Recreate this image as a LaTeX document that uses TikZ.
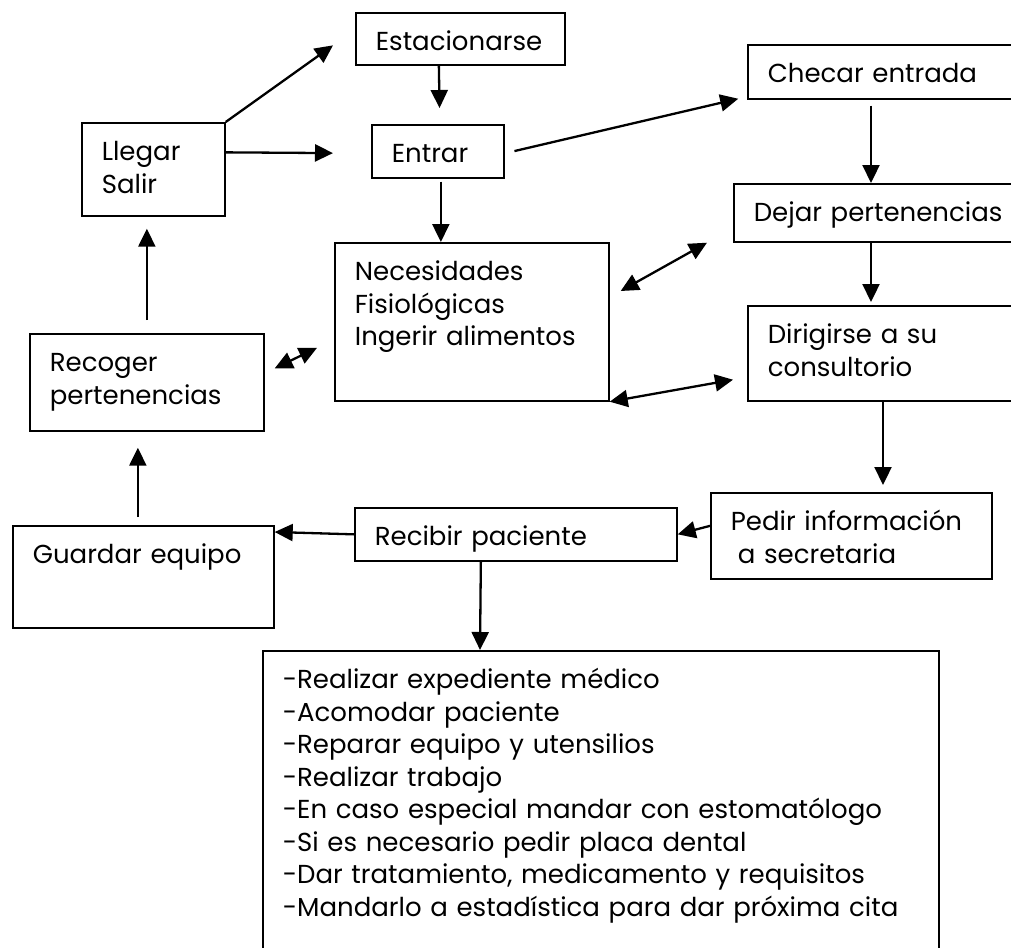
\documentclass[tikz,border=0pt]{standalone}
\usepackage{fontspec}
\setmainfont{Poppins}
\usepackage{xcolor}
\usepackage{tikz}
\usetikzlibrary{arrows.meta}

\begin{document}
\begin{tikzpicture}[x=1pt,y=-1pt,
    box/.style={draw, line width=1.7pt, anchor=north west, align=left,
      inner xsep=20pt, inner ysep=0pt, text height=38pt,
      font=\fontsize{26}{32.5}\selectfont},
    arr/.style={-{Triangle[length=18pt,width=17pt]}, line width=2.3pt},
    darr/.style={{Triangle[length=18pt,width=17pt]}-{Triangle[length=18pt,width=17pt]}, line width=2.3pt}]
    \useasboundingbox (0,0) rectangle (1011,947);
    \clip (0,0) rectangle (1011,947);
    % cajas
    \node[box, text width=169pt, text depth=14pt] (esta) at (355,12) {Estacionarse};
    \node[box, text width=103pt, text depth=55pt] (llegar) at (81,122) {Llegar\\Salir};
    \node[box, text width=92pt, text depth=15pt] (entrar) at (371,124) {Entrar};
    \node[box, text width=263pt, text depth=16pt] (checar) at (747,44) {Checar entrada};
    \node[box, text width=277pt, text depth=20pt] (dejar) at (733,183) {Dejar pertenencias};
    \node[box, text width=234pt, text depth=120pt] (necesid) at (334,242) {Necesidades\\Fisiológicas\\Ingerir alimentos};
    \node[box, text width=194pt, text depth=59pt] (recoger) at (29,333) {Recoger\\pertenencias};
    \node[box, text width=263pt, text depth=57pt] (dirigir) at (747,305) {Dirigirse a su\\consultorio};
    \node[box, text width=241pt, text depth=48pt] (pedir) at (710,492) {Pedir información\\\hspace{7pt}a secretaria};
    \node[box, text width=282pt, text depth=15pt] (recibir) at (354,507) {Recibir paciente};
    \node[box, text width=221pt, text depth=64pt] (guardar) at (12,525) {Guardar equipo};
    \node[box, text width=636pt, text depth=320pt] (lista) at (262,650) {-Realizar expediente médico\\-Acomodar paciente\\-Reparar equipo y utensilios\\-Realizar trabajo\\-En caso especial mandar con estomatólogo\\-Si es necesario pedir placa dental\\-Dar tratamiento, medicamento y requisitos\\-Mandarlo a estadística para dar próxima cita};
    % flechas
    \draw[arr] (llegar.north east) -- ([xshift=-22pt,yshift=-6.5pt]esta.west);
    \draw[arr, shorten >=38pt] ([yshift=17pt]llegar.east) -- ([yshift=-2pt]entrar.west);
    \draw[arr, shorten >=16pt] ([xshift=-21.5pt]esta.south) -- ([xshift=2pt]entrar.north);
    \draw[arr, shorten <=3pt] ([xshift=3pt]entrar.south) -- ([xshift=-31pt]necesid.north);
    \draw[arr, shorten <=10pt, shorten >=9pt] ([yshift=-2pt]entrar.east) -- ([yshift=3pt]checar.south west);
    \draw[arr, shorten <=6pt] ([xshift=124pt]checar.south west) -- ([xshift=138pt]dejar.north west);
    \draw[arr, shorten >=3pt] ([xshift=138pt]dejar.south west) -- ([xshift=124pt]dirigir.north west);
    \draw[darr] ([xshift=11pt,yshift=-49pt]necesid.north east) -- ([xshift=-26pt]dejar.south west);
    \draw[darr] (necesid.south east) -- ([xshift=-14pt,yshift=22pt]dirigir.south west);
    \draw[darr] ([xshift=10pt,yshift=14pt]recoger.east) -- ([xshift=-17pt,yshift=-26pt]necesid.west);
    \draw[arr, shorten <=13pt, shorten >=12pt] (recoger.north) -- ([xshift=-6.5pt]llegar.south);
    \draw[arr, shorten <=8pt, shorten >=16pt] ([xshift=-5.5pt]guardar.north) -- ([xshift=-9pt]recoger.south);
    \draw[arr, shorten >=7pt] ([xshift=136pt]dirigir.south west) -- ([xshift=173pt]pedir.north west);
    \draw[arr] ([yshift=10pt]pedir.west) -- (recibir.east);
    \draw[arr] (recibir.west) -- ([yshift=-7pt]guardar.north east);
    \draw[arr] ([xshift=-35pt]recibir.south) -- ([xshift=218pt]lista.north west);
\end{tikzpicture}
\end{document}
